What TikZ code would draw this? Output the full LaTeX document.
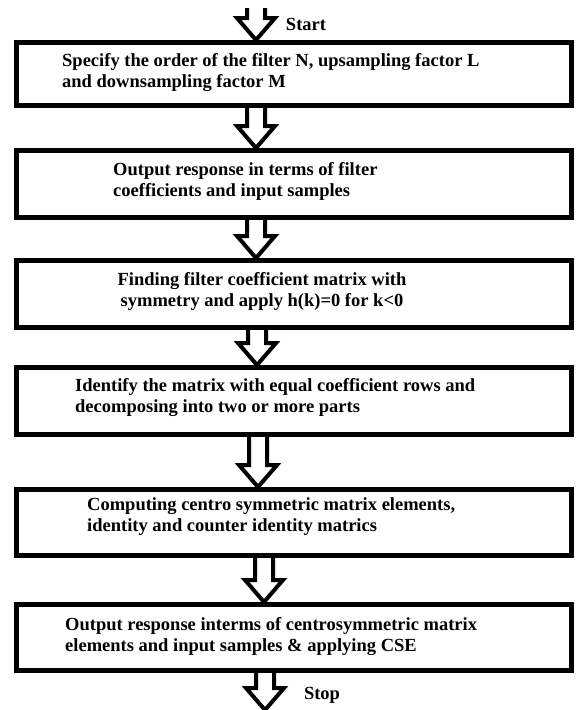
\documentclass[tikz,border=0pt]{standalone}
\usepackage{fontspec}
\setmainfont{Liberation Serif}
\usetikzlibrary{calc}
\tikzset{
  stepbox/.style={draw, line width=5pt, minimum width=555pt, inner sep=0pt},
  steptext/.style={font=\bfseries\fontsize{18.5}{21}\selectfont, inner sep=0pt, align=left},
  fat/.style={line width=4pt, to path={let \p1=(\tikztostart), \p2=(\tikztotarget) in
      (\x1-9,\y1) -- (\x1-9,\y2+22) -- (\x1-19,\y2+22) -- (\x1,\y2)
      -- (\x1+19,\y2+22) -- (\x1+9,\y2+22) -- (\x1+9,\y1)}}
}
\begin{document}
\begin{tikzpicture}[x=1pt,y=-1pt]
  \useasboundingbox (0,0) rectangle (577,710);

  \node[stepbox, minimum height=63] (b1) at (294,74) {};
  \node[stepbox, minimum height=67] (b2) at (294,184) {};
  \node[stepbox, minimum height=67] (b3) at (294,294) {};
  \node[stepbox, minimum height=67] (b4) at (294,401) {};
  \node[stepbox, minimum height=66] (b5) at (294,522.5) {};
  \node[stepbox, minimum height=66] (b6) at (294,637.5) {};

  \node[steptext, anchor=west] (t1) at (62,72.5) {Specify the order of the filter N, upsampling factor L\\and downsampling factor M};
  \node[steptext, anchor=west] (t2) at (113,181) {Output response in terms of filter\\coefficients and input samples};
  \node[steptext, align=center] (t3) at (262,291.5) {Finding filter coefficient matrix with\\symmetry and apply h(k)=0 for k<0};
  \node[steptext, anchor=west] (t4) at (75,398) {Identify the matrix with equal coefficient rows and\\decomposing into two or more parts};
  \node[steptext, anchor=west] (t5) at (87,517) {Computing centro symmetric matrix elements,\\identity and counter identity matrics};
  \node[steptext, anchor=west] (t6) at (65,637) {Output response interms of centrosymmetric matrix\\elements and input samples \& applying CSE};

  \coordinate (start) at (256,8);
  \coordinate (stop) at (265,710);
  \node[steptext] (lstart) at (306,24) {Start};
  \node[steptext] (lstop) at (322,695) {Stop};

  \draw[fat] (start) to ([xshift=-38]b1.north);
  \draw[fat] ([xshift=-38]b1.south) to ([xshift=-38]b2.north);
  \draw[fat] ([xshift=-38]b2.south) to ([xshift=-38]b3.north);
  \draw[fat] ([xshift=-37]b3.south) to ([xshift=-37]b4.north);
  \draw[fat] ([xshift=-36]b4.south) to ([xshift=-36]b5.north);
  \draw[fat] ([xshift=-30]b5.south) to ([xshift=-30]b6.north);
  \draw[fat] ([xshift=-29]b6.south) to (stop);
\end{tikzpicture}
\end{document}
